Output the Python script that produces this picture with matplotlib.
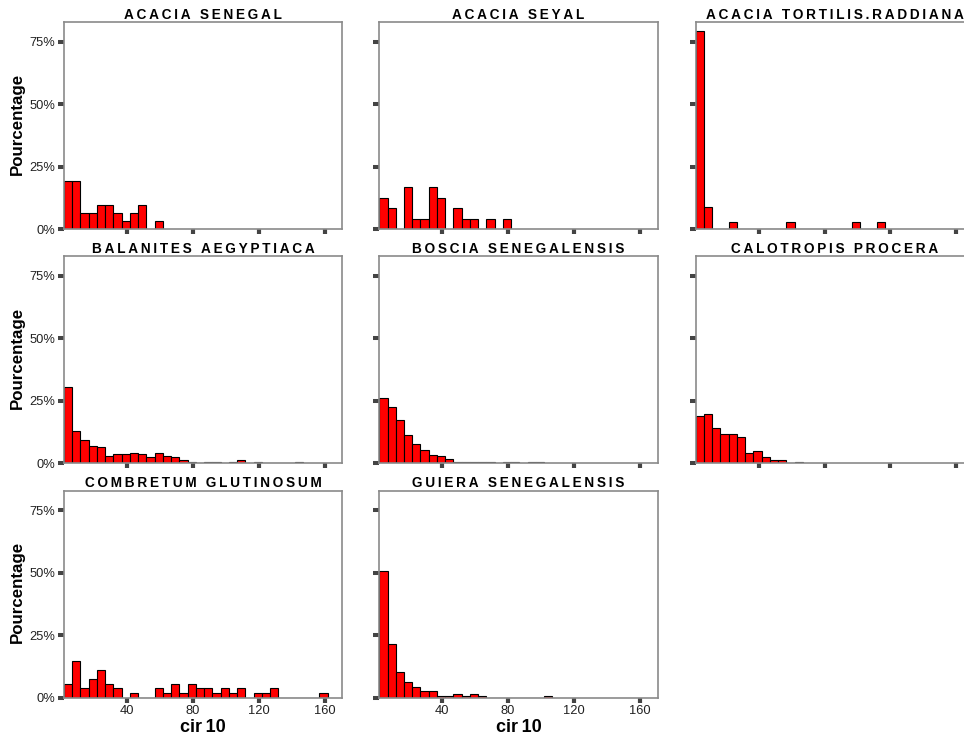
# SPSS-style panel of cir10 histograms, one per species
import numpy as np
import matplotlib
matplotlib.use('Agg')
import matplotlib.pyplot as plt

plt.rcParams['font.family'] = ['Liberation Sans', 'DejaVu Sans']

W, H = 964, 740

# bins of 5 cm starting at the data minimum
BIN_START = 1.8
BIN_WIDTH = 5.0
X_MAX = 170.8
Y_MAX = 83.0

# percentage of trees per bin
senegal = [19.4, 19.4, 6.5, 6.5, 9.7, 9.7, 6.5, 3.2, 6.5, 9.7, 0, 3.2]
seyal = [12.5, 8.3, 0, 16.7, 4.2, 4.2, 16.7, 12.5, 0, 8.3, 4.2, 4.2, 0, 4.2, 0, 4.2]
tortilis = [79.4, 8.8, 0, 0, 2.9, 0, 0, 0, 0, 0, 0, 2.9, 0, 0, 0, 0, 0, 0, 0, 2.9,
            0, 0, 2.9]
balanites = [30.6, 12.8, 9.4, 7.0, 6.3, 3.0, 3.5, 3.5, 4.0, 3.5, 2.3, 4.0, 3.0, 2.3,
             1.1, 0.5, 0, 0.5, 0.5, 0, 0.5, 1.1, 0, 0.5, 0, 0, 0, 0, 0.5]
boscia = [26.0, 22.3, 17.1, 11.2, 7.7, 5.1, 3.4, 3.0, 1.7, 0.6, 0.6, 0.6, 0.6, 0.6,
          0, 0.6, 0.6, 0, 0.3, 0.3]
calotropis = [18.8, 19.5, 14.1, 11.8, 11.8, 10.5, 4.2, 4.7, 2.3, 1.1, 1.1, 0, 0.5]
combretum = [5.6, 14.8, 3.7, 7.4, 11.1, 5.6, 3.7, 0, 1.9, 0, 0, 3.7, 1.9, 5.6, 1.9,
             5.6, 3.7, 3.7, 1.9, 3.7, 1.9, 3.7, 0, 1.9, 1.9, 3.7, 0, 0, 0, 0, 0, 1.9]
guiera = [50.7, 21.5, 10.2, 6.2, 4.2, 2.6, 2.6, 0.8, 0.8, 1.3, 0.8, 1.3, 0.8, 0, 0,
          0, 0, 0, 0, 0, 0.8]

species = ['ACACIA SENEGAL', 'ACACIA SEYAL', 'ACACIA TORTILIS.RADDIANA',
           'BALANITES AEGYPTIACA', 'BOSCIA SENEGALENSIS', 'CALOTROPIS PROCERA',
           'COMBRETUM GLUTINOSUM', 'GUIERA SENEGALENSIS']
values = [senegal, seyal, tortilis, balanites, boscia, calotropis, combretum, guiera]

x_ticks = [40, 80, 120, 160]
y_ticks = [0, 25, 50, 75]
y_labels = ['0%', '25%', '50%', '75%']

# panel geometry in pixels
col_left = [64, 379.3, 695.7]
row_top = [22, 256, 490.5]
ax_w, ax_h = 278.5, 207

THIN = '\u2009'


def spaced(s):
    # SPSS draws the panel titles letter-spaced
    return (THIN + ' ' + THIN).join(THIN.join(w) for w in s.split(' '))


fig = plt.figure(figsize=(W / 100, H / 100), dpi=100)

for k in range(len(species)):
    r, c = k // 3, k % 3
    ax = fig.add_axes([col_left[c] / W, 1 - (row_top[r] + ax_h) / H, ax_w / W, ax_h / H])
    pct = values[k]
    lefts = BIN_START + BIN_WIDTH * np.arange(len(pct))
    ax.bar(lefts, pct, width=BIN_WIDTH, align='edge', color='#ff0000',
           edgecolor='black', linewidth=0.8, zorder=2)
    ax.set_xlim(BIN_START, X_MAX)
    ax.set_ylim(0, Y_MAX)
    ax.set_xticks(x_ticks)
    ax.set_yticks(y_ticks)
    for sp in ax.spines.values():
        sp.set_color('#8a8a8a')
        sp.set_linewidth(1.2)
    ax.tick_params(axis='x', length=3.6, width=3.0, color='#444444', pad=1.5,
                   labelsize=9.3, labelcolor='#222222')
    ax.tick_params(axis='y', length=4.3, width=2.9, color='#444444', pad=2,
                   labelsize=9.3, labelcolor='#222222')
    if c == 0:
        ax.set_yticklabels(y_labels)
    else:
        ax.set_yticklabels([])
    if r == 2:
        ax.set_xticklabels([str(t) for t in x_ticks])
        fig.text((col_left[c] + ax_w / 2) / W, 1 - 727 / H, 'cir' + THIN + '10',
                 ha='center', va='center', fontsize=13, fontweight='bold')
    else:
        ax.set_xticklabels([])
    ax.set_title(spaced(species[k]), fontsize=9.8, fontweight='bold', pad=2.5)

for r in range(3):
    fig.text(17 / W, 1 - (row_top[r] + ax_h / 2 - 2) / H, 'Pourcentage',
             rotation=90, ha='center', va='center', fontsize=12.2,
             fontweight='bold')

fig.savefig('out.png', dpi=100)
